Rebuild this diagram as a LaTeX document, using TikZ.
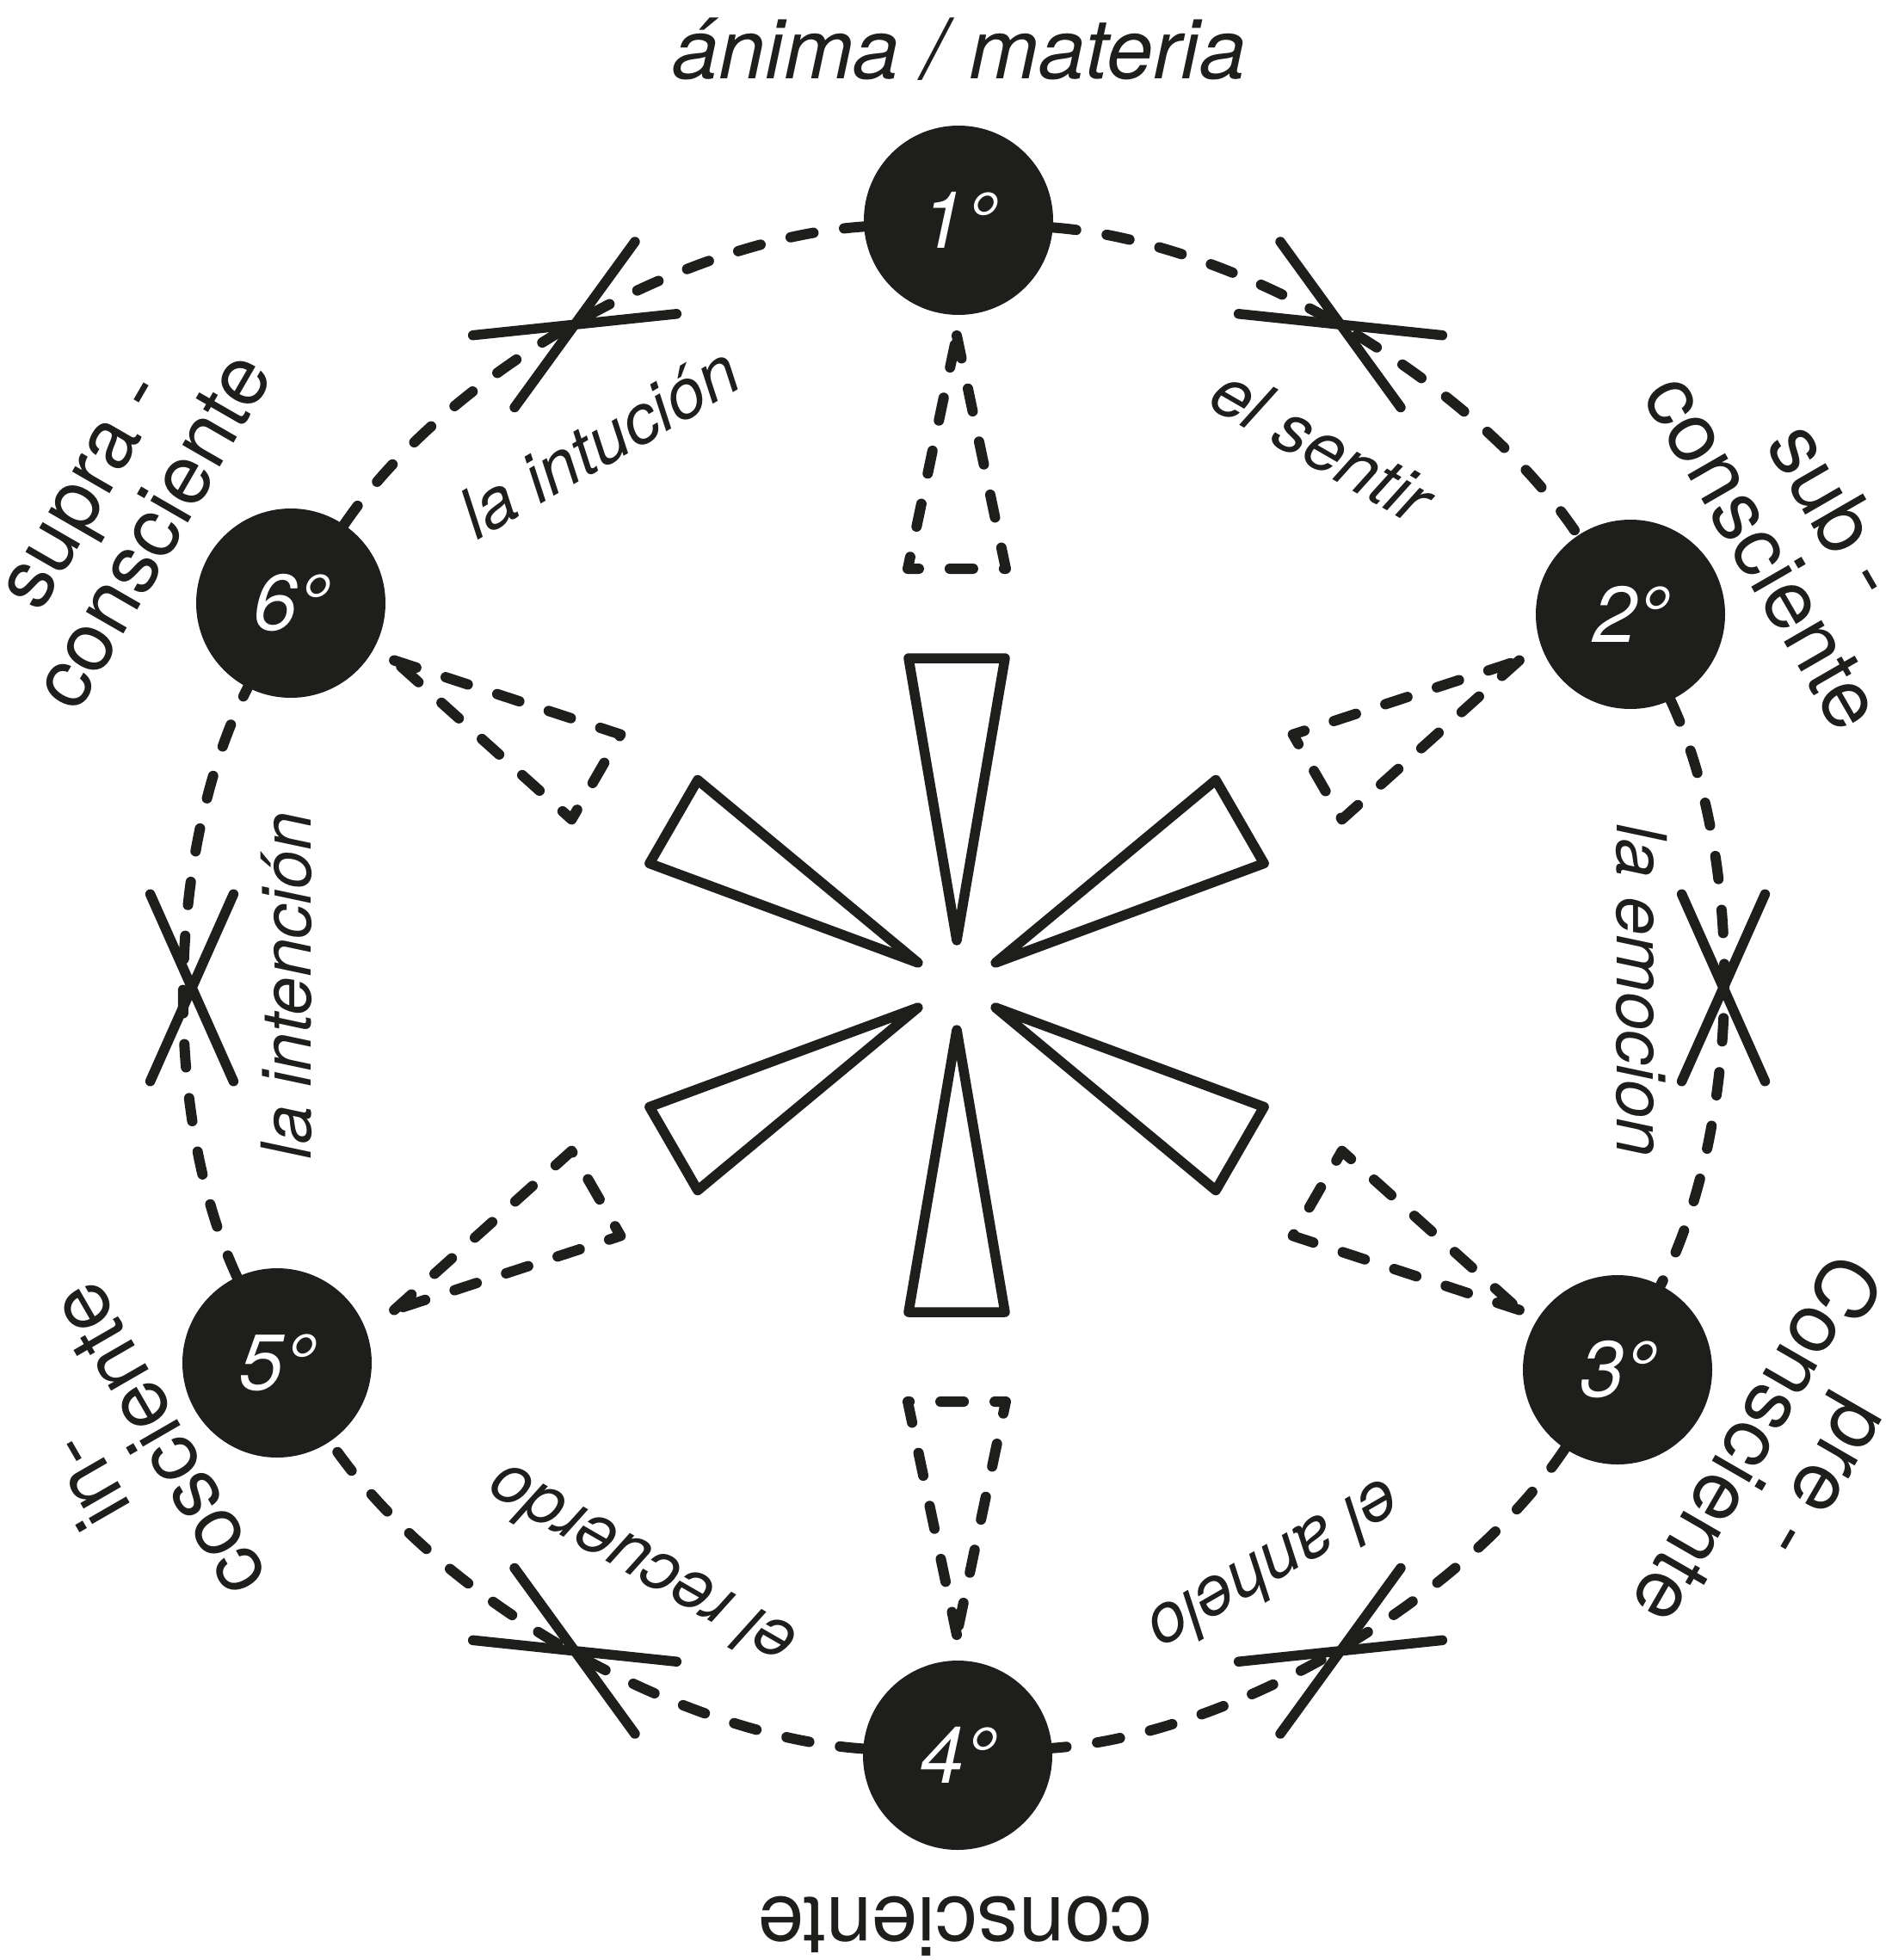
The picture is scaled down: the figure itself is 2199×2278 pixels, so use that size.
\documentclass[tikz,border=0pt]{standalone}
\usepackage{fontspec}
\setmainfont{TeX Gyre Heros}
\usetikzlibrary{calc}
\definecolor{ink}{RGB}{30,30,28}
\begin{document}
\begin{tikzpicture}[x=1pt,y=1pt,
  inkline/.style={draw=ink, line width=11.5pt, line cap=round, line join=round},
  dashline/.style={inkline, line width=12pt, dash pattern=on 27pt off 36pt},
  degnode/.style={circle, fill=ink, minimum size=220pt, inner sep=0pt, text=white,
                  font=\fontsize{92}{92}\selectfont\itshape},
  biglabel/.style={text=ink, font=\fontsize{96}{96}\selectfont, align=center, inner sep=0pt},
  arclabel/.style={text=ink, font=\fontsize{80}{80}\selectfont\itshape, inner sep=0pt},
]
\fill[white] (0,0) rectangle (2199,-2278);
\useasboundingbox (0,0) rectangle (2199,-2278);

\coordinate (C) at (1113,-1148);
\coordinate (S) at (1112,-1145);

% solid star wedges
\foreach \a in {90,30,-30,-90,-150,150}{
  \draw[inkline] ($(S)+(\a:52)$) -- ($(S)+(\a:380)+(\a+90:56)$)
                 -- ($(S)+(\a:380)+(\a-90:56)$) -- cycle;
}

% dashed triangles
\foreach \a in {90,30,-30,-90,-150,150}{
  \draw[dashline] ($(S)+(\a:755)$) -- ($(S)+(\a:484)+(\a-90:57)$)
                  -- ($(S)+(\a:484)+(\a+90:57)$) -- cycle;
}

% degree nodes
\node[degnode] (n1) at (1114,-256) {1°};
\node[degnode] (n2) at (1895,-714) {2°};
\node[degnode] (n3) at (1880,-1592) {3°};
\node[degnode] (n4) at (1113,-2040) {4°};
\node[degnode] (n5) at (322,-1584) {5°};
\node[degnode] (n6) at (338,-701) {6°};

% dashed arcs between nodes
\foreach \p/\q in {n1/n2,n2/n3,n3/n4,n4/n5,n5/n6,n6/n1}{
  \draw[dashline] (\p) to[bend left=26, looseness=0.78] (\q);
}

% crosses on the arcs
\foreach \a [count=\i] in {120,60,0,-60,-120,180}{
  \coordinate (x\i) at ($(C)+(\a:890)$);
  \draw[inkline] ($(x\i)+(\a-66:119)$) -- ($(x\i)+(\a+114:119)$);
  \draw[inkline] ($(x\i)+(\a-114:119)$) -- ($(x\i)+(\a+66:119)$);
}

% labels
\node[biglabel, font=\fontsize{97}{97}\selectfont\itshape, anchor=base] (title) at (1115,-91) {ánima / materia};
\node[biglabel, rotate=180] (bottom) at (1110,-2239) {consciente};
\node[biglabel, rotate=60] (supra) at (141,-596) {supra -\\consciente};
\node[biglabel, rotate=-60] (sub) at (2093,-616) {sub -\\consciente};
\node[biglabel, rotate=240] (pre) at (2077,-1694) {pre -\\Consciente};
\node[biglabel, rotate=120] (in) at (141,-1699) {in-\\cosciente};

\node[arclabel, rotate=30] (l61) at (696,-514) {la intución};
\node[arclabel, rotate=-30] (l12) at (1537,-517) {el sentir};
\node[arclabel, rotate=-90] (l23) at (1908,-1151) {la emocion};
\node[arclabel, rotate=90] (l56) at (333,-1146) {la intención};
\node[arclabel, rotate=150] (l45) at (744,-1822) {el recuerdo};
\node[arclabel, rotate=210] (l34) at (1483,-1822) {el anhelo};
\end{tikzpicture}
\end{document}
